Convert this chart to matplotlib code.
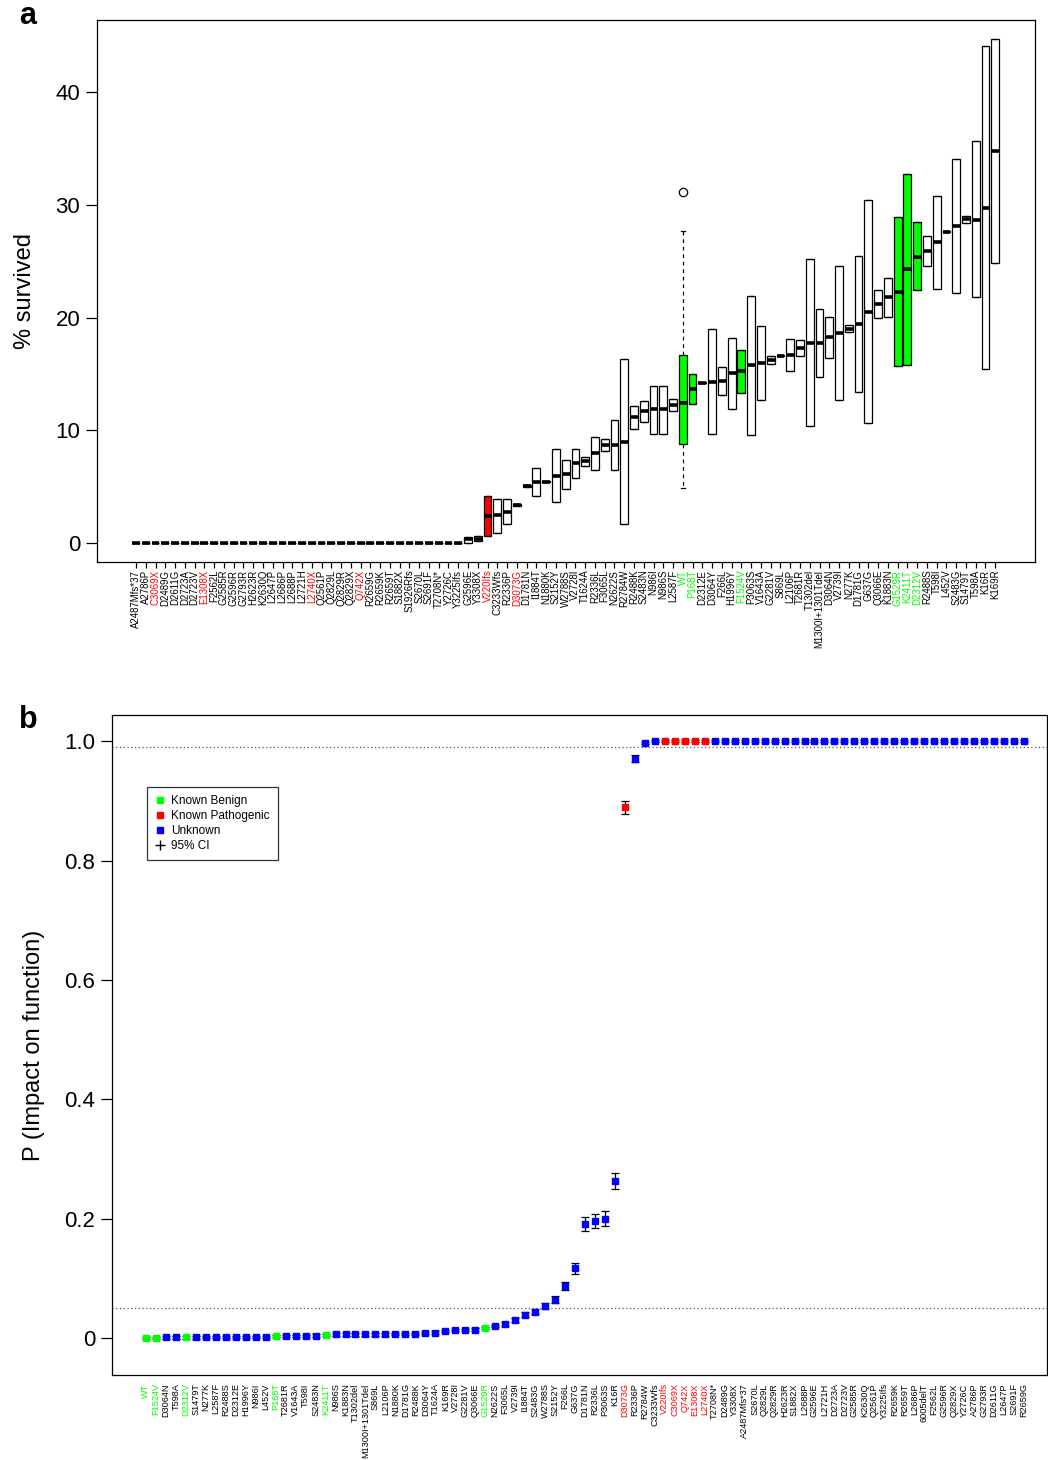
import matplotlib
matplotlib.use('Agg')
import matplotlib.pyplot as plt
from matplotlib.lines import Line2D
import numpy as np

plt.rcParams['font.family'] = ['Liberation Sans', 'DejaVu Sans']

# ---------------- Panel a data ----------------
a_labels = ["A2487Mfs*37", "A2786P", "C3069X", "D2489G", "D2611G", "D2723A", "D2723V", "E1308X",
            "F2562L", "G2585R", "G2596R", "G2793R", "H2623R", "K2630Q", "L2647P", "L2686P",
            "L2688P", "L2721H", "L2740X", "Q2561P", "Q2829L", "Q2829R", "Q2829X", "Q742X",
            "R2659G", "R2659K", "R2659T", "S1882X", "S1926Rfs", "S2670L", "S2691F", "T2708N*",
            "Y2726C", "Y3225Ifs", "G2596E", "Y3308X", "V220Ifs", "C3233Wfs", "R2336P", "D3073G",
            "D1781N", "I1884T", "N1880K", "S2152Y", "W2788S", "V2728I", "T1624A", "R2336L",
            "F3065L", "N2622S", "R2784W", "R2488K", "S2483N", "N986I", "N986S", "L2587F",
            "WT", "P168T", "D2312E", "D3064Y", "F266L", "H1996Y", "F1524V", "P3063S",
            "V1643A", "G2281V", "S869L", "L2106P", "T2681R", "T1302del", "M1300I+1301Tdel", "D3064N",
            "V2739I", "N277K", "D1781G", "G637G", "Q3066E", "K1883N", "G1529R", "K2411T",
            "D2312V", "R2488S", "T598I", "L452V", "S2483G", "S1479T", "T598A", "K16R", "K169R"]

a_med = [0.0] * 34 + [0.33, 0.38, 2.4, 2.48, 2.78, 3.37, 5.06, 5.38, 5.44, 5.98,
                      6.09, 7.07, 7.3, 7.96, 8.7, 8.7, 8.99, 11.15, 11.69, 11.86,
                      11.86, 12.24, 12.4, 13.66, 14.23, 14.32, 14.4, 15.06, 15.23, 15.77,
                      16.0, 16.24, 16.62, 16.68, 17.33, 17.75, 17.75, 18.25, 18.63, 19.02,
                      19.4, 20.5, 21.2, 21.8, 22.27, 24.29, 25.41, 25.94, 26.68, 27.6,
                      28.13, 28.72, 28.65, 29.75, 34.76]
a_q1 = [0.0] * 34 + [0.03, 0.18, 0.62, 0.91, 1.66, 3.32, 5.0, 4.14, 5.4, 3.67,
                     4.82, 5.74, 6.86, 6.48, 8.13, 6.5, 1.66, 10.14, 10.71, 9.7,
                     9.7, 11.74, 8.78, 12.33, 14.2, 9.64, 13.1, 11.89, 13.28, 9.58,
                     12.72, 15.86, 16.58, 15.23, 16.62, 10.38, 14.76, 16.44, 12.69, 18.75,
                     13.4, 10.6, 19.99, 20.08, 15.71, 15.79, 22.42, 24.61, 22.57, 27.55,
                     22.16, 28.37, 21.8, 15.44, 24.84]
a_q3 = [0.0] * 34 + [0.56, 0.62, 4.2, 3.93, 3.87, 3.42, 5.12, 6.68, 5.48, 8.31,
                     7.34, 8.37, 7.66, 9.43, 9.25, 10.9, 16.33, 12.13, 12.63, 13.96,
                     13.96, 12.78, 16.71, 14.97, 14.27, 18.96, 15.64, 18.22, 17.1, 21.92,
                     19.23, 16.62, 16.66, 18.1, 18.01, 25.17, 20.79, 20.08, 24.58, 19.32,
                     25.5, 30.4, 22.45, 23.54, 28.93, 32.77, 28.46, 27.27, 30.79, 27.65,
                     34.1, 29.04, 35.7, 44.07, 44.69]
wt_whisker_lo = 4.85
wt_whisker_hi = 27.68
wt_outliers = [31.17]

benign = {"WT", "P168T", "F1524V", "G1529R", "K2411T", "D2312V"}
pathogenic = {"C3069X", "E1308X", "L2740X", "Q742X", "V220Ifs", "D3073G"}
filled_red = {"V220Ifs"}

# ---------------- Panel b data ----------------
b_labels = ["WT", "F1524V", "D3064N", "T598A", "D2312V", "S1479T", "N277K", "L2587F",
            "R2488S", "D2312E", "H1996Y", "N986I", "L452V", "P168T", "T2681R", "V1643A",
            "T598I", "S2483N", "K2411T", "N986S", "K1883N", "T1302del", "M1300I+1301Tdel", "S869L",
            "L2106P", "N1880K", "D1781G", "R2488K", "D3064Y", "T1624A", "K169R", "V2728I",
            "G2281V", "Q3066E", "G1529R", "N2622S", "F3065L", "V2739I", "I1884T", "S2483G",
            "W2788S", "S2152Y", "F266L", "G637G", "D1781N", "R2336L", "P3063S", "K16R",
            "D3073G", "R2336P", "R2784W", "C3233Wfs", "V220Ifs", "C3069X", "Q742X", "E1308X",
            "L2740X", "T2708N*", "D2489G", "Y3308X", "A2487Mfs*37", "S2670L", "Q2829L", "Q2829R",
            "H2623R", "S1882X", "L2688P", "G2596E", "L2721H", "D2723A", "D2723V", "G2585R",
            "K2630Q", "Q2561P", "Y3225Ifs", "R2659K", "R2659T", "L2686P", "6005delT", "F2562L",
            "G2596R", "Q2829X", "Y2726C", "A2786P", "G2793R", "D2611G", "L2647P", "S2691F",
            "R2659G"]
b_p = [0.000, 0.000, 0.001, 0.001, 0.001, 0.001, 0.002, 0.002,
       0.002, 0.002, 0.002, 0.002, 0.002, 0.003, 0.003, 0.003,
       0.003, 0.004, 0.005, 0.006, 0.006, 0.006, 0.006, 0.006,
       0.006, 0.007, 0.007, 0.007, 0.008, 0.009, 0.012, 0.013,
       0.013, 0.014, 0.017, 0.020, 0.023, 0.030, 0.039, 0.044,
       0.054, 0.064, 0.087, 0.117, 0.191, 0.196, 0.200, 0.263,
       0.889, 0.971, 0.997] + [1.0] * 38
b_ci = [0.002] * 36 + [0.003, 0.003, 0.004, 0.004,
                       0.005, 0.006, 0.007, 0.009, 0.011, 0.012, 0.012, 0.013,
                       0.011, 0.006, 0.002] + [0.002] * 38


def label_color(lab):
    if lab in benign:
        return '#00ff00'
    if lab in pathogenic:
        return '#ff0000'
    return 'black'


fig = plt.figure(figsize=(10.48, 14.6), dpi=100)

# ================= Panel a =================
axa = fig.add_axes([97 / 1048, 1 - 562 / 1460, (1035 - 97) / 1048, (562 - 20) / 1460])
stats = []
for i, lab in enumerate(a_labels):
    d = dict(med=a_med[i], q1=a_q1[i], q3=a_q3[i], whislo=a_q1[i], whishi=a_q3[i], fliers=[])
    if lab == "WT":
        d['whislo'] = wt_whisker_lo
        d['whishi'] = wt_whisker_hi
        d['fliers'] = wt_outliers
    stats.append(d)
pos = np.arange(1, len(a_labels) + 1)
res = axa.bxp(stats, positions=pos, widths=0.8, patch_artist=True, showcaps=True,
              capwidths=0.4,
              boxprops=dict(edgecolor='black', linewidth=0.9, facecolor='white'),
              medianprops=dict(color='black', linewidth=2.6, solid_capstyle='butt'),
              whiskerprops=dict(color='black', linewidth=0.9),
              capprops=dict(color='black', linewidth=0.9),
              flierprops=dict(marker='o', markerfacecolor='white', markeredgecolor='black',
                              markersize=6, markeredgewidth=0.9))
for i, lab in enumerate(a_labels):
    box = res['boxes'][i]
    if lab in benign:
        box.set_facecolor('#00ff00')
    elif lab in filled_red:
        box.set_facecolor('#ff0000')
    if lab == "WT":
        for w in res['whiskers'][2 * i:2 * i + 2]:
            w.set_linestyle((0, (3, 3)))
axa.set_xlim(-3.0, 93.07)
axa.set_ylim(-1.69, 46.4)
axa.set_yticks([0, 10, 20, 30, 40])
axa.set_yticklabels(['0', '10', '20', '30', '40'], fontsize=16)
axa.set_xticks(pos)
axa.set_xticklabels(a_labels, rotation=90, fontsize=6.9)
for t, lab in zip(axa.get_xticklabels(), a_labels):
    t.set_color(label_color(lab))
axa.tick_params(axis='y', length=8, width=0.9, pad=4)
axa.tick_params(axis='x', length=4, width=0.9, pad=1.5)
axa.set_ylabel('% survived', fontsize=17, labelpad=14)
for s in axa.spines.values():
    s.set_linewidth(0.9)

# ================= Panel b =================
axb = fig.add_axes([112 / 1048, 1 - 1375 / 1460, (1047 - 112) / 1048, (1375 - 715) / 1460])
xb = np.arange(len(b_labels))
col_map = {}
for lab in b_labels:
    if lab in benign:
        col_map[lab] = '#00ff00'
    elif lab in pathogenic:
        col_map[lab] = '#ff0000'
    else:
        col_map[lab] = '#0000ff'
axb.axhline(0.99, color='#555555', linestyle=(0, (1, 2)), linewidth=0.9, zorder=1)
axb.axhline(0.05, color='#555555', linestyle=(0, (1, 2)), linewidth=0.9, zorder=1)
axb.errorbar(xb, b_p, yerr=b_ci, fmt='none', ecolor='black', elinewidth=0.9,
             capsize=3.2, capthick=0.9, zorder=2)
for x, lab, p in zip(xb, b_labels, b_p):
    axb.plot([x], [p], marker='s', markersize=4.8, color=col_map[lab],
             markeredgecolor=col_map[lab], linestyle='none', zorder=3)
axb.set_xlim(-3.4, 90.3)
axb.set_ylim(-0.062, 1.044)
axb.set_yticks([0, 0.2, 0.4, 0.6, 0.8, 1.0])
axb.set_yticklabels(['0', '0.2', '0.4', '0.6', '0.8', '1.0'], fontsize=16)
axb.set_xticks(xb)
axb.set_xticklabels(b_labels, rotation=90, fontsize=6.6)
for t, lab in zip(axb.get_xticklabels(), b_labels):
    t.set_color(label_color(lab))
axb.tick_params(axis='y', length=8, width=0.9, pad=4)
axb.tick_params(axis='x', length=0, pad=6)
axb.set_ylabel('P (Impact on function)', fontsize=17, labelpad=14)
for s in axb.spines.values():
    s.set_linewidth(0.9)

handles = [Line2D([], [], marker='s', color='#00ff00', linestyle='none', markersize=5),
           Line2D([], [], marker='s', color='#ff0000', linestyle='none', markersize=5),
           Line2D([], [], marker='s', color='#0000ff', linestyle='none', markersize=5),
           Line2D([], [], marker='+', color='black', linestyle='none', markersize=7)]
leg = axb.legend(handles, ['Known Benign', 'Known Pathogenic', 'Unknown', '95% CI'],
                 loc='upper left', bbox_to_anchor=(0.037, 0.891), fontsize=8.5,
                 frameon=True, fancybox=False, edgecolor='black', handlelength=0.8,
                 handletextpad=0.6, borderpad=0.7, labelspacing=0.25, borderaxespad=0)
leg.get_frame().set_linewidth(0.9)

fig.text(28 / 1048, 1 - 16 / 1460, 'a', fontsize=22, fontweight='bold', ha='center', va='center')
fig.text(28 / 1048, 1 - 720 / 1460, 'b', fontsize=22, fontweight='bold', ha='center', va='center')

fig.savefig('out.png', dpi=100)
